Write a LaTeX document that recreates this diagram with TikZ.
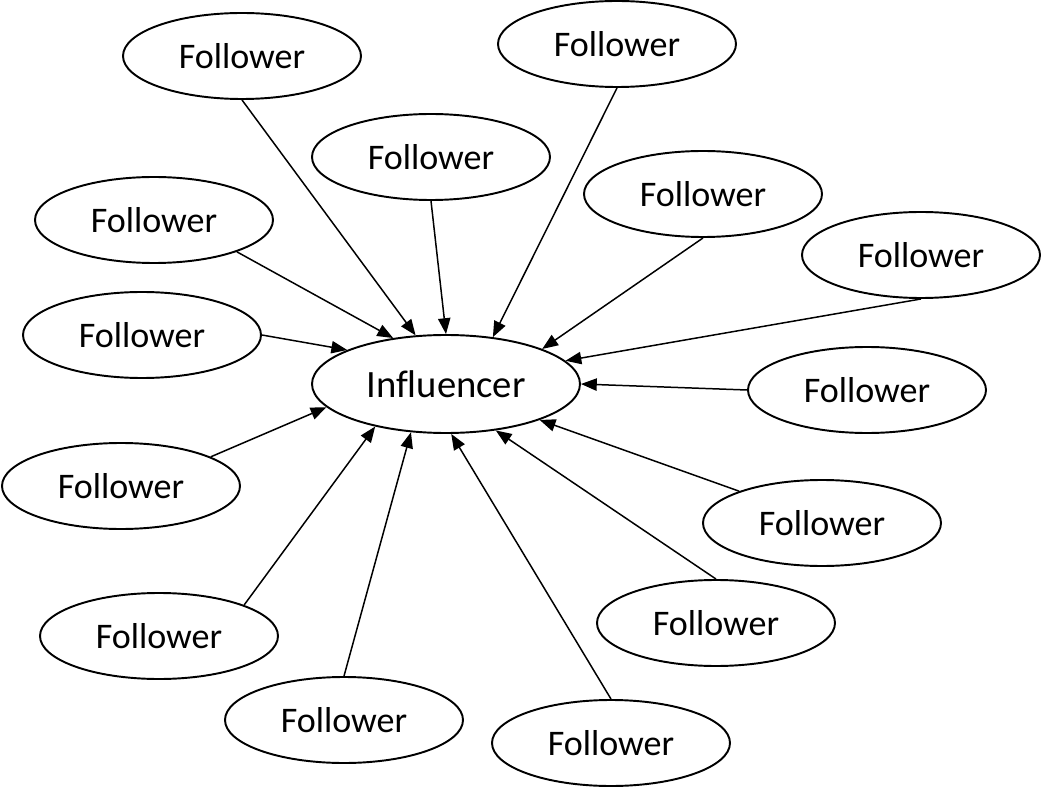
\documentclass[tikz,border=0pt]{standalone}
\usepackage{fontspec}
\setmainfont[Ligatures=CommonOff]{Carlito}
\usetikzlibrary{arrows.meta,shapes.geometric}

\begin{document}
\begin{tikzpicture}[
  every node/.style={font=\fontsize{20.5}{22}\selectfont},
  oval/.style={draw,ellipse,line width=1.1pt,inner sep=0pt,fill=white},
  follower/.style={oval,minimum width=4.76cm,minimum height=1.72cm},
  hub/.style={oval,minimum width=5.36cm,minimum height=1.96cm,
              font=\fontsize{22}{24}\selectfont},
  arr/.style={-{Triangle[length=9pt,width=7pt]},line width=0.85pt},
]
\useasboundingbox (0,0) rectangle (20.84,15.78);
% centre
\node[hub] (infl) at (8.92,8.10) {Influencer};
% followers, top half
\node[follower] (fol1) at (4.84,14.66) {Follower};
\node[follower] (fol2) at (12.34,14.90) {Follower};
\node[follower] (fol3) at (8.62,12.64) {Follower};
\node[follower] (fol4) at (14.06,11.90) {Follower};
\node[follower] (fol5) at (3.08,11.38) {Follower};
\node[follower] (fol6) at (18.42,10.68) {Follower};
\node[follower] (fol7) at (2.84,9.08) {Follower};
\node[follower] (fol8) at (17.34,7.98) {Follower};
% followers, bottom half
\node[follower] (fol9) at (2.42,6.06) {Follower};
\node[follower] (fol10) at (16.44,5.32) {Follower};
\node[follower] (fol11) at (3.18,3.06) {Follower};
\node[follower] (fol12) at (14.32,3.32) {Follower};
\node[follower] (fol13) at (6.88,1.38) {Follower};
\node[follower] (fol14) at (12.22,0.92) {Follower};

% arrows into the influencer
\draw[arr] (fol1.south) -- (infl.122);
\draw[arr] (fol2.south) -- (infl.45);
\draw[arr] (fol3.south) -- (infl.90);
\draw[arr] (fol4.south) -- (infl.20);
\draw[arr] (fol5.-21) -- (infl.139);
\draw[arr] (fol6.south) -- (infl.11);
\draw[arr] (fol7.east) -- (infl.161);
\draw[arr] (fol8.west) -- (infl.0);
\draw[arr] (fol9.18) -- (infl.191);
\draw[arr] (fol10.159) -- (infl.-21);
\draw[arr] (fol11.20) -- (infl.211);
\draw[arr] (fol12.north) -- (infl.-43);
\draw[arr] (fol13.north) -- (infl.234);
\draw[arr] (fol14.north) -- (infl.-84);
\end{tikzpicture}
\end{document}
